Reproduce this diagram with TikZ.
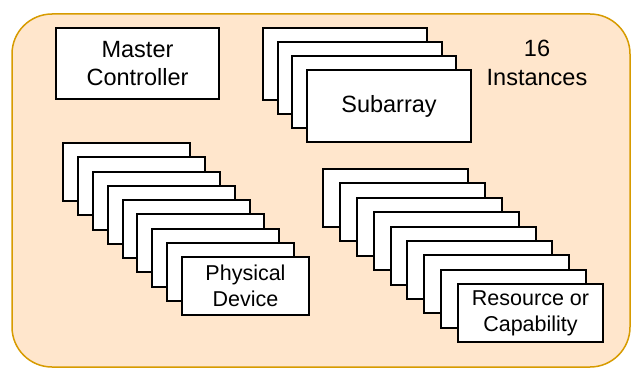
\documentclass[tikz,border=0pt]{standalone}
\usepackage{fontspec}
\setmainfont{Liberation Sans}
\definecolor{bgfill}{RGB}{255,230,204}
\definecolor{bgline}{RGB}{215,155,0}
\tikzset{
  box/.style={draw=black, line width=2pt, fill=white, rectangle, anchor=north west,
    inner sep=0pt, outer sep=0pt, align=center},
  bigtxt/.style={font=\fontsize{23.5}{28.5}\selectfont},
  smalltxt/.style={font=\fontsize{21.5}{25.7}\selectfont},
}
\begin{document}
\begin{tikzpicture}[x=1pt,y=-1pt]
\useasboundingbox (0,0) rectangle (631,369);
\draw[fill=bgfill, draw=bgline, line width=1.5pt, rounded corners=40pt] (12,14) rectangle (630,367);
% Master controller
\node[box, bigtxt, minimum width=163pt, minimum height=71pt] (mc) at (56,28) {Master\\Controller};
% Subarray stack
\foreach \i in {0,...,2}
  \node[box, minimum width=164pt, minimum height=72pt] (s\i) at ({263+\i*14.67},{28+\i*14.1}) {};
\node[box, bigtxt, minimum width=164pt, minimum height=72pt] (s3) at ({263+3*14.67},{28+3*14.1}) {Subarray};
\node[bigtxt, align=center, inner sep=0pt] (inst) at (537,63) {16\\Instances};
% Physical device stack
\foreach \i in {0,...,7}
  \node[box, minimum width=127pt, minimum height=58pt] (p\i) at ({63+\i*14.875},{143+\i*14.25}) {};
\node[box, smalltxt, minimum width=127pt, minimum height=58pt] (p8) at ({63+8*14.875},{143+8*14.25}) {Physical\\Device};
% Resource stack
\foreach \i in {0,...,7}
  \node[box, minimum width=145pt, minimum height=58pt] (r\i) at ({323+\i*16.875},{169+\i*14.375}) {};
\node[box, smalltxt, minimum width=145pt, minimum height=58pt] (r8) at ({323+8*16.875},{169+8*14.375}) {Resource or\\Capability};
\end{tikzpicture}
\end{document}
